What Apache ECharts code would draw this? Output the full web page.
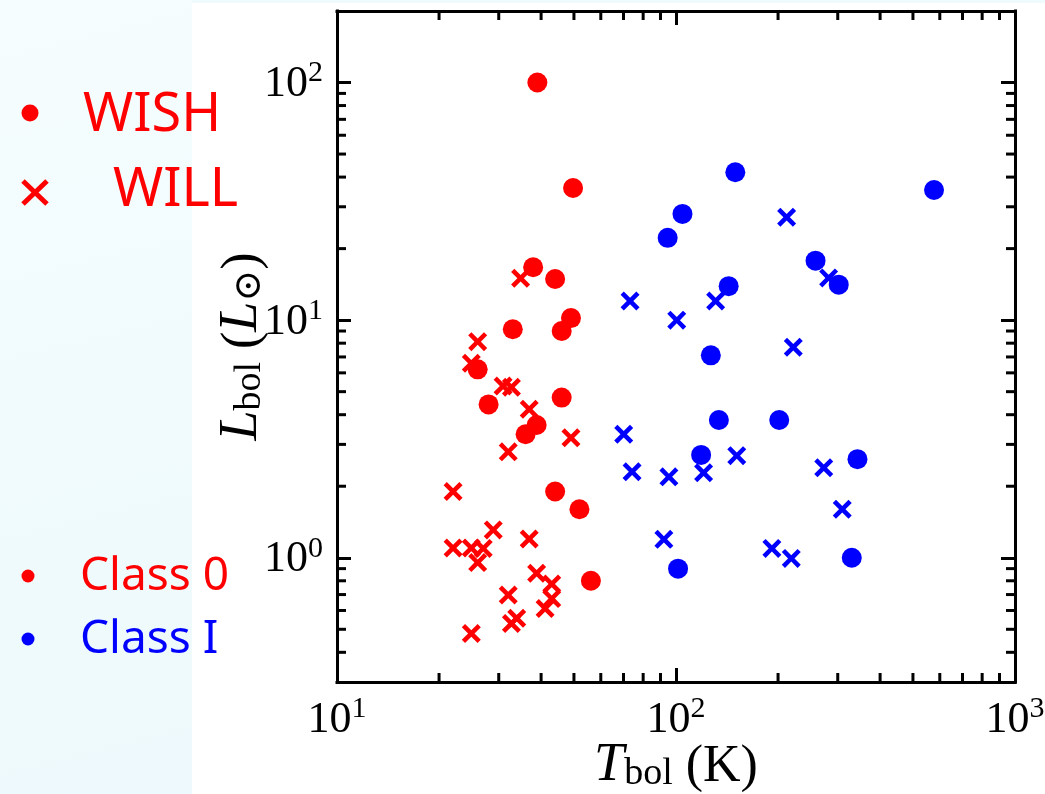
<!DOCTYPE html>
<html>
<head>
<meta charset="utf-8">
<script src="https://cdn.jsdelivr.net/npm/echarts@6/dist/echarts.min.js"></script>
<style>
  html, body { margin: 0; padding: 0; background: #ffffff; }
  #chart { width: 1045px; height: 794px; }
</style>
</head>
<body>
<div id="chart"></div>
<script>
// Bolometric temperature (K) and luminosity (L_sun) of the sources
const wishClass0T = [39, 49.7, 37.9, 44.0, 49.0, 46.0, 33.0, 26.0, 28.0, 46.0, 38.8, 36.0, 44.0, 51.9, 56.1];
const wishClass0L = [100, 36.0, 16.7, 14.9, 10.2, 9.0, 9.16, 6.21, 4.42, 4.72, 3.62, 3.31, 1.90, 1.60, 0.80];

const willClass0T = [34.8, 26.0, 24.9, 30.9, 32.7, 36.9, 49.0, 32.0, 22.0, 28.9, 36.9, 22.0, 24.9, 27.0, 26.0, 38.8, 43.0, 43.0, 41.1, 32.0, 33.9, 32.7, 24.9];
const willClass0L = [15.0, 8.12, 6.58, 5.28, 5.22, 4.22, 3.20, 2.79, 1.90, 1.31, 1.20, 1.10, 1.10, 1.095, 0.954, 0.86, 0.775, 0.673, 0.612, 0.697, 0.556, 0.529, 0.48];

const wishClassIT = [149.6, 104.5, 94.5, 258, 302, 143, 126.7, 133.8, 201.6, 118.6, 343, 101.4, 330, 577];
const wishClassIL = [41.9, 28.0, 22.2, 17.8, 14.1, 13.9, 7.11, 3.80, 3.80, 2.71, 2.60, 0.90, 1.00, 35.3];

const willClassIT = [212, 282, 73.2, 100.5, 130.9, 221.8, 70.1, 74.2, 95.3, 120.6, 151.1, 272.8, 309.3, 92.1, 191.8, 218.8];
const willClassIL = [27.1, 15.06, 12.04, 10.0, 12.04, 7.69, 3.31, 2.30, 2.19, 2.28, 2.69, 2.39, 1.60, 1.195, 1.095, 0.994];

// Axis ranges and minor tick positions
const xRange = [10, 1000];
const yRange = [0.3, 200];
const xMinorTicks = [20, 30, 40, 50, 60, 70, 80, 90, 200, 300, 400, 500, 600, 700, 800, 900];
const yMinorTicks = [0.4, 0.5, 0.6, 0.7, 0.8, 0.9, 2, 3, 4, 5, 6, 7, 8, 9, 20, 30, 40, 50, 60, 70, 80, 90];

const RED = '#ff0000';
const BLUE = '#0000ff';
const SERIF = '"Liberation Serif", "DejaVu Serif", serif';
const SANS = '"Noto Sans", "Open Sans", sans-serif';
const CROSS = 'path://M0,17 L17,0 L50,33 L83,0 L100,17 L67,50 L100,83 L83,100 L50,67 L17,100 L0,83 L33,50 Z';

const pairs = (xs, ys) => xs.map((x, i) => [x, ys[i]]);

// Labels only at powers of ten, drawn as 10 with a superscript exponent
function powerLabel(v) {
  const lg = Math.log10(v);
  const e = Math.round(lg);
  if (Math.abs(lg - e) > 1e-6) return '';
  return '{b|10}{s|' + e + '}';
}
const labelRich = {
  b: { fontFamily: SERIF, fontSize: 44, lineHeight: 48, color: '#000', verticalAlign: 'bottom' },
  s: { fontFamily: SERIF, fontSize: 30, lineHeight: 30, color: '#000', verticalAlign: 'top' }
};
const titleRich = {
  it: { fontFamily: SERIF, fontStyle: 'italic', fontSize: 54, lineHeight: 60, color: '#000', verticalAlign: 'bottom' },
  sub: { fontFamily: SERIF, fontSize: 38, lineHeight: 34, color: '#000', verticalAlign: 'bottom' },
  rm: { fontFamily: SERIF, fontSize: 52, lineHeight: 60, color: '#000', verticalAlign: 'bottom' }
};

const axisLineStyle = { color: '#000', width: 3, cap: 'square' };
const majorTick = { show: true, inside: true, length: 14, lineStyle: { color: '#000', width: 3 } };

function baseAxis(range, extra) {
  return Object.assign({
    type: 'log', logBase: 10, min: range[0], max: range[1],
    axisLine: { show: true, onZero: false, lineStyle: axisLineStyle },
    axisTick: majorTick,
    minorTick: { show: false },
    splitLine: { show: false }
  }, extra);
}

// Minor ticks on all four sides, placed through the axis scales
function minorTickRender(params, api) {
  const v = api.value(0);
  const kind = api.value(1);
  const len = 9;
  const style = { stroke: '#000', lineWidth: 3 };
  if (kind === 0) {
    const b = api.coord([v, yRange[0]]);
    const t = api.coord([v, yRange[1]]);
    return { type: 'group', children: [
      { type: 'line', shape: { x1: b[0], y1: b[1], x2: b[0], y2: b[1] - len }, style },
      { type: 'line', shape: { x1: t[0], y1: t[1], x2: t[0], y2: t[1] + len }, style }
    ] };
  }
  const l = api.coord([xRange[0], v]);
  const r = api.coord([xRange[1], v]);
  return { type: 'group', children: [
    { type: 'line', shape: { x1: l[0], y1: l[1], x2: l[0] + len, y2: l[1] }, style },
    { type: 'line', shape: { x1: r[0], y1: r[1], x2: r[0] - len, y2: r[1] }, style }
  ] };
}
const minorTickData = xMinorTicks.map(v => [v, 0]).concat(yMinorTicks.map(v => [v, 1]));

const chart = echarts.init(document.getElementById('chart'), null, { renderer: 'canvas' });

chart.setOption({
  animation: false,
  backgroundColor: '#ffffff',
  grid: { left: 337, top: 11, width: 678, height: 671, containLabel: false, outerBoundsMode: 'none' },
  xAxis: [
    baseAxis(xRange, {
      position: 'bottom',
      axisLabel: { show: true, margin: 12, formatter: powerLabel, rich: labelRich },
      name: '{it|T}{sub|bol}{rm| (K)}',
      nameLocation: 'middle',
      nameGap: 51,
      nameMoveOverlap: false,
      nameTextStyle: { rich: titleRich }
    }),
    baseAxis(xRange, { position: 'top', axisLabel: { show: false } })
  ],
  yAxis: [
    baseAxis(yRange, {
      position: 'left',
      axisLabel: { show: true, margin: 14, formatter: powerLabel, rich: labelRich },
      name: '{it|L}{sub|bol}{rm| (}{it|L}{sub|\u2299}{rm|)}',
      nameLocation: 'middle',
      nameRotate: 90,
      nameGap: 68,
      nameMoveOverlap: false,
      nameTextStyle: { rich: titleRich }
    }),
    baseAxis(yRange, { position: 'right', axisLabel: { show: false } })
  ],
  graphic: [
    // pale side panel and top strip
    { type: 'rect', z: -10, shape: { x: 0, y: 0, width: 192, height: 794 },
      style: { fill: new echarts.graphic.LinearGradient(0, 0, 1, 1, [
        { offset: 0, color: '#f5fdfe' }, { offset: 1, color: '#edf9fc' }]) } },
    { type: 'rect', z: -10, shape: { x: 192, y: 0, width: 853, height: 3 }, style: { fill: '#eefafc' } },
    // survey key
    { type: 'circle', shape: { cx: 30, cy: 113, r: 8.5 }, style: { fill: RED } },
    { type: 'text', x: 83, y: 116, style: { text: 'WISH', fill: RED, font: '54px ' + SANS, verticalAlign: 'middle' } },
    { type: 'line', shape: { x1: 23, y1: 181, x2: 47, y2: 204 }, style: { stroke: RED, lineWidth: 5 } },
    { type: 'line', shape: { x1: 47, y1: 181, x2: 23, y2: 204 }, style: { stroke: RED, lineWidth: 5 } },
    { type: 'text', x: 113, y: 191, style: { text: 'WILL', fill: RED, font: '54px ' + SANS, verticalAlign: 'middle' } },
    // class key
    { type: 'circle', shape: { cx: 28, cy: 576, r: 6.5 }, style: { fill: RED } },
    { type: 'text', x: 80, y: 577, style: { text: 'Class 0', fill: RED, font: '46px ' + SANS, verticalAlign: 'middle' } },
    { type: 'circle', shape: { cx: 28, cy: 639, r: 6.5 }, style: { fill: BLUE } },
    { type: 'text', x: 80, y: 640, style: { text: 'Class I', fill: BLUE, font: '46px ' + SANS, verticalAlign: 'middle' } }
  ],
  series: [
    { name: 'minor ticks', type: 'custom', renderItem: minorTickRender, data: minorTickData,
      clip: false, silent: true, z: 5 },
    { name: 'WISH Class 0', type: 'scatter', data: pairs(wishClass0T, wishClass0L),
      symbol: 'circle', symbolSize: 20, itemStyle: { color: RED, opacity: 1 }, z: 3 },
    { name: 'WILL Class 0', type: 'scatter', data: pairs(willClass0T, willClass0L),
      symbol: CROSS, symbolSize: 19, itemStyle: { color: RED, opacity: 1 }, z: 3 },
    { name: 'WISH Class I', type: 'scatter', data: pairs(wishClassIT, wishClassIL),
      symbol: 'circle', symbolSize: 20, itemStyle: { color: BLUE, opacity: 1 }, z: 3 },
    { name: 'WILL Class I', type: 'scatter', data: pairs(willClassIT, willClassIL),
      symbol: CROSS, symbolSize: 19, itemStyle: { color: BLUE, opacity: 1 }, z: 3 }
  ]
});
</script>
</body>
</html>
